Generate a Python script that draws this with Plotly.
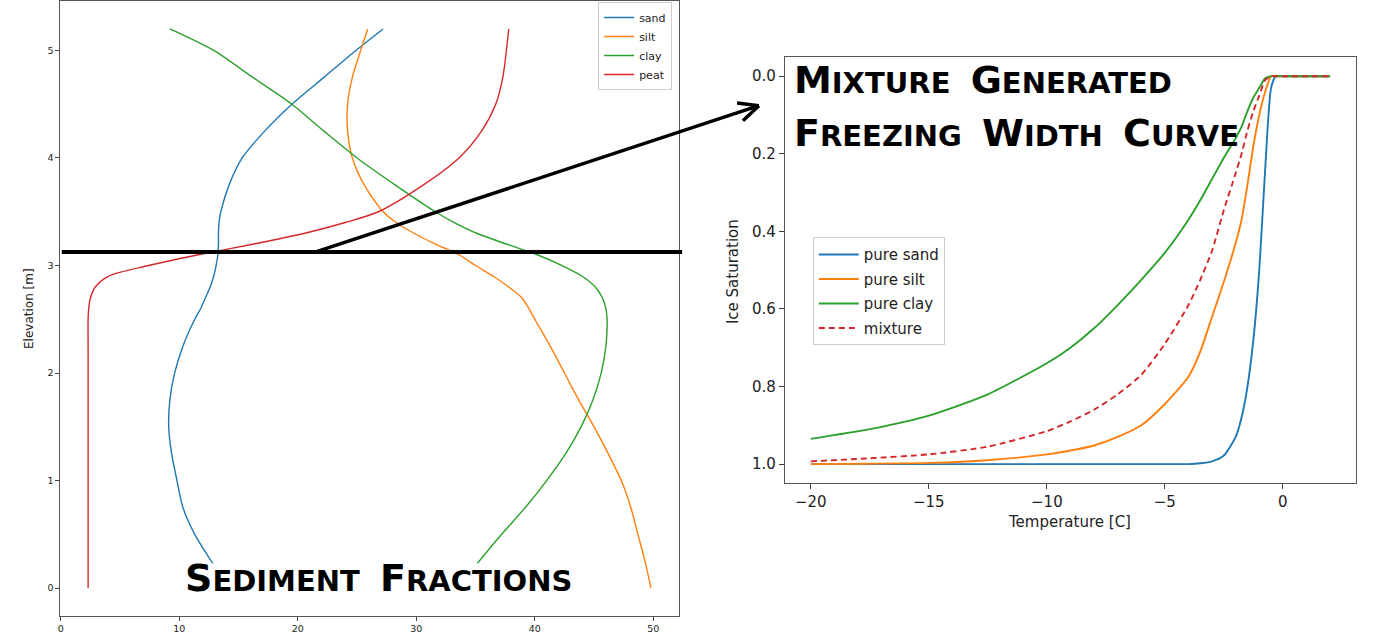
import plotly.graph_objects as go

W, H = 1383, 634

# ---------------- data: sediment fractions (left) ----------------
elevation = [0, 0.25, 0.5, 0.75, 1.0, 1.25, 1.5, 1.75, 2.0, 2.25, 2.5, 2.6, 2.7, 2.8,
             2.9, 3.0, 3.1, 3.2, 3.3, 3.4, 3.5, 3.75, 4.0, 4.25, 4.5, 4.75, 5.0, 5.2]
sand = [14.2, 12.7, 11.3, 10.3, 9.8, 9.35, 9.1, 9.2, 9.6, 10.3, 11.3, 11.8, 12.2, 12.6,
        12.9, 13.1, 13.25, 13.3, 13.3, 13.35, 13.5, 14.2, 15.3, 17.2, 19.5, 22.2, 24.9, 27.2]
silt = [49.8, 49.3, 48.7, 48.1, 47.3, 46.2, 45.0, 43.7, 42.5, 41.3, 40.0, 39.5, 38.9, 37.8,
        36.5, 35.0, 33.6, 31.6, 29.8, 28.3, 27.2, 25.6, 24.6, 24.2, 24.2, 24.6, 25.3, 25.9]
clay = [33.5, 35.3, 37.2, 39.2, 41.0, 42.6, 43.9, 44.9, 45.6, 46.0, 46.1, 46.0, 45.7, 45.1,
        44.0, 42.3, 40.2, 37.6, 35.1, 33.2, 31.6, 28.2, 25.0, 22.2, 19.5, 16.2, 12.9, 9.2]
peat = [2.3, 2.3, 2.3, 2.3, 2.3, 2.3, 2.3, 2.3, 2.3, 2.3, 2.3, 2.35, 2.5, 2.9,
        4.0, 7.4, 11.6, 16.3, 20.6, 24.0, 26.8, 30.6, 33.6, 35.5, 36.7, 37.3, 37.6, 37.8]
cut_elevation = 3.125

# ---------------- data: freezing curves (right) ----------------
temperature = [-20, -17.5, -15, -12.5, -10, -9, -8, -7, -6, -5, -4, -3.5, -3, -2.5, -2,
               -1.75, -1.5, -1.25, -1, -0.75, -0.5, -0.3, 0, 1, 2]
sat_sand = [1, 1, 1, 1, 1, 1, 1, 1, 1, 1, 1.0, 0.998, 0.993, 0.978, 0.93,
            0.88, 0.8, 0.68, 0.5, 0.24, 0.03, 0, 0, 0, 0]
sat_silt = [1.0, 0.999, 0.997, 0.99, 0.975, 0.965, 0.952, 0.93, 0.9, 0.845, 0.775, 0.71, 0.62, 0.53, 0.43,
            0.37, 0.28, 0.18, 0.1, 0.04, 0.0, 0, 0, 0, 0]
sat_clay = [0.935, 0.91, 0.875, 0.82, 0.74, 0.70, 0.65, 0.59, 0.525, 0.455, 0.37, 0.32, 0.265, 0.21, 0.16,
            0.13, 0.09, 0.055, 0.03, 0.005, 0, 0, 0, 0, 0]
sat_mix = [0.993, 0.985, 0.975, 0.955, 0.915, 0.89, 0.86, 0.82, 0.77, 0.69, 0.59, 0.525, 0.45, 0.345, 0.25,
           0.2, 0.14, 0.09, 0.05, 0.01, 0, 0, 0, 0, 0]

left_ticks_x = [0, 10, 20, 30, 40, 50]
left_ticks_y = [0, 1, 2, 3, 4, 5]
right_ticks_x = [-20, -15, -10, -5, 0]
right_ticks_x_text = ["\u221220", "\u221215", "\u221210", "\u22125", "0"]
right_ticks_y = [0.0, 0.2, 0.4, 0.6, 0.8, 1.0]
right_ticks_y_text = ["0.0", "0.2", "0.4", "0.6", "0.8", "1.0"]

BLUE, ORANGE, GREEN, RED = "#1f77b4", "#ff7f0e", "#2ca02c", "#d62728"
FONT = "DejaVu Sans"


def px(x):
    return x / W


def py(y):
    return 1 - y / H


fig = go.Figure()

for name, vals, col in [("sand", sand, BLUE), ("silt", silt, ORANGE),
                        ("clay", clay, GREEN), ("peat", peat, RED)]:
    fig.add_trace(go.Scatter(x=vals, y=elevation, mode="lines", name=name,
                             line=dict(color=col, width=1.4, shape="spline", smoothing=0.8),
                             xaxis="x", yaxis="y", legend="legend2"))

for name, vals, col, dash in [("pure sand", sat_sand, BLUE, "solid"),
                              ("pure silt", sat_silt, ORANGE, "solid"),
                              ("pure clay", sat_clay, GREEN, "solid"),
                              ("mixture", sat_mix, RED, "6px,4px")]:
    fig.add_trace(go.Scatter(x=temperature, y=vals, mode="lines", name=name,
                             line=dict(color=col, width=1.9, dash=dash, shape="spline", smoothing=0.6),
                             xaxis="x2", yaxis="y2", legend="legend", legendgroup=name))

axis_common = dict(showline=True, mirror=True, linecolor="#555", linewidth=1,
                   ticks="outside", tickcolor="#444", showgrid=False, zeroline=False)

fig.update_layout(
    width=W, height=H, margin=dict(l=0, r=0, t=0, b=0),
    paper_bgcolor="white", plot_bgcolor="white",
    font=dict(family=FONT, color="#222"),
    xaxis=dict(domain=[px(58), px(678)], range=[-0.08, 52.17], tickvals=left_ticks_x,
               ticklen=3.5, tickfont=dict(size=9.5), anchor="y", **axis_common),
    yaxis=dict(domain=[1 - 617 / H, 1.0], range=[-0.26, 5.46], tickvals=left_ticks_y,
               ticklen=3.5, tickfont=dict(size=9.5), anchor="x", **axis_common),
    xaxis2=dict(domain=[px(784), px(1356)], range=[-21.1, 3.1], tickvals=right_ticks_x,
                ticktext=right_ticks_x_text, ticklen=5, tickfont=dict(size=15), anchor="y2",
                **axis_common),
    yaxis2=dict(domain=[py(484), py(56)], range=[1.05, -0.05], tickvals=right_ticks_y,
                ticktext=right_ticks_y_text, ticklen=5, tickfont=dict(size=15), anchor="x2",
                **axis_common),
    legend=dict(x=px(812), y=py(237), xanchor="left", yanchor="top",
                font=dict(size=15, color="#222"), bgcolor="rgba(255,255,255,0.85)",
                bordercolor="#ccc", borderwidth=1, itemwidth=40, tracegroupgap=2),
    legend2=dict(x=px(597), y=py(1), xanchor="left", yanchor="top",
                 font=dict(size=11, color="#222"), bgcolor="rgba(255,255,255,0.85)",
                 bordercolor="#ccc", borderwidth=1),
)

# axis titles
fig.add_annotation(text="Elevation [m]", x=px(27), y=py(308), xref="paper", yref="paper",
                   xanchor="center", yanchor="middle",
                   textangle=-90, showarrow=False, font=dict(size=12, color="#222"))
fig.add_annotation(text="Ice Saturation", x=px(732), y=py(271), xref="paper", yref="paper",
                   xanchor="center", yanchor="middle",
                   textangle=-90, showarrow=False, font=dict(size=15, color="#222"))
fig.add_annotation(text="Temperature [C]", x=px(1069), y=py(523), xref="paper", yref="paper",
                   xanchor="center", yanchor="middle",
                   showarrow=False, font=dict(size=15, color="#222"))


def smallcaps(words, big=38):
    parts = []
    for w in words:
        parts.append('<span style="font-size:%dpx">%s</span>%s' % (big, w[0], w[1:]))
    return "  ".join(parts)


# white panel behind the "Sediment Fractions" caption (hides curves beneath it)
fig.add_shape(type="rect", xref="paper", yref="paper", layer="above",
              x0=px(180), x1=px(576), y0=py(600), y1=py(564),
              fillcolor="white", line=dict(width=0))

fig.add_annotation(text="<b>" + smallcaps(["SEDIMENT", "FRACTIONS"]) + "</b>",
                   x=px(181), y=py(579), xref="paper", yref="paper", xanchor="left",
                   yanchor="middle", showarrow=False,
                   font=dict(size=29, color="black", family=FONT))
fig.add_annotation(text="<b>" + smallcaps(["MIXTURE", "GENERATED"]) + "</b>",
                   x=px(791), y=py(79), xref="paper", yref="paper", xanchor="left",
                   yanchor="middle", showarrow=False,
                   font=dict(size=29, color="black", family=FONT))
fig.add_annotation(text="<b>" + smallcaps(["FREEZING", "WIDTH", "CURVE"]) + "</b>",
                   x=px(791), y=py(132), xref="paper", yref="paper", xanchor="left",
                   yanchor="middle", showarrow=False,
                   font=dict(size=29, color="black", family=FONT))

# horizontal cut line at the mixture elevation
fig.add_shape(type="line", xref="x domain", yref="y", x0=0.003, x1=1.005,
              y0=cut_elevation, y1=cut_elevation, line=dict(color="black", width=4))

# arrow to the right panel
x0, y0, x1, y1 = 315, 251.5, 758, 105
fig.add_shape(type="line", xref="paper", yref="paper", x0=px(x0), y0=py(y0), x1=px(x1), y1=py(y1),
              line=dict(color="black", width=3.5))
for dx, dy in [(-0.993, -0.117), (-0.727, 0.685)]:
    L = 22
    fig.add_shape(type="line", xref="paper", yref="paper", x0=px(x1), y0=py(y1),
                  x1=px(x1 + dx * L), y1=py(y1 + dy * L), line=dict(color="black", width=3.5))

fig.write_html("out.html")
